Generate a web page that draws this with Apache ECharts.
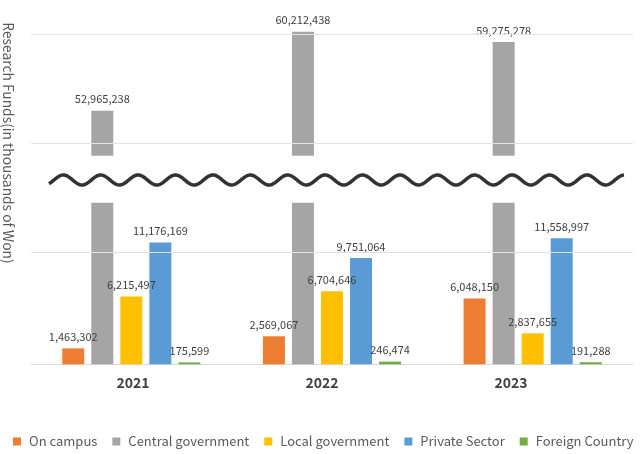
<!DOCTYPE html>
<html>
<head>
<meta charset="utf-8">
<title>Research Funds</title>
<script src="https://cdn.jsdelivr.net/npm/echarts@6/dist/echarts.min.js"></script>
<style>
    html, body {margin:0;padding:0;background:#fff}
    #chart {width:640px;height:454px}
</style>
</head>
<body>
<div id="chart"></div>
<script>
// data (thousands of Won)
var years = ['2021', '2022', '2023'];
var onCampus = [1463302, 2569067, 6048150];
var centralGov = [52965238, 60212438, 59275278];
var localGov = [6215497, 6704646, 2837655];
var privateSector = [11176169, 9751064, 11558997];
var foreignCountry = [175599, 246474, 191288];

var seriesNames = ['On campus', 'Central government', 'Local government', 'Private Sector', 'Foreign Country'];
var seriesColors = ['#ED7D31', '#A5A5A5', '#FFC000', '#5B9BD5', '#70AD47'];
var seriesData = [onCampus, centralGov, localGov, privateSector, foreignCountry];

// broken axis: lower part and upper part
var lowRange = [0, 14826000];
var highRange = [48835000, 61284000];
var lowGrid = [10240000];
var highGrid = [50000000, 60000000];

var FONT = '"Noto Sans CJK KR", "Noto Sans", sans-serif';
var fmt = function (p) { return Number(p.value).toLocaleString('en-US'); };

// empty line series that only carries the horizontal gridlines (drawn under the bars)
function gridSeries(axisIdx, vals) {
    return {
        name: 'gridlines',
        type: 'line',
        xAxisIndex: axisIdx,
        yAxisIndex: axisIdx,
        z: 1,
        data: [],
        markLine: {
            silent: true,
            symbol: 'none',
            label: {show: false},
            lineStyle: {color: '#e3e3e3', width: 1, type: 'solid'},
            data: vals.map(function (v) { return {yAxis: v}; })
        }
    };
}

var series = [gridSeries(0, highGrid), gridSeries(1, lowGrid)];
// lower part
seriesNames.forEach(function (name, i) {
    series.push({
        name: name,
        type: 'bar',
        xAxisIndex: 1,
        yAxisIndex: 1,
        z: 2,
        data: seriesData[i],
        barWidth: 22,
        barGap: '32%',
        itemStyle: {color: seriesColors[i]},
        label: {show: i !== 1, position: 'top', distance: 6, fontSize: 11, color: '#404040', formatter: fmt}
    });
});
// upper part (only central government reaches it)
seriesNames.forEach(function (name, i) {
    series.push({
        name: name,
        type: 'bar',
        xAxisIndex: 0,
        yAxisIndex: 0,
        z: 2,
        data: i === 1 ? centralGov : years.map(function () { return '-'; }),
        barWidth: 22,
        barGap: '32%',
        itemStyle: {color: seriesColors[i]},
        label: {show: i === 1, position: 'top', distance: 6, fontSize: 11, color: '#404040', formatter: fmt}
    });
});

// wavy break line
var wave = [];
for (var x = 49; x <= 624; x += 1) {
    wave.push([x, 180 - 5 * Math.cos(2 * Math.PI * (x - 63.3) / 37.4)]);
}

var chart = echarts.init(document.getElementById('chart'));
chart.setOption({
    animation: false,
    textStyle: {fontFamily: FONT},
    legend: {
        data: seriesNames,
        left: 13,
        top: 435,
        padding: 0,
        icon: 'rect',
        itemWidth: 8,
        itemHeight: 8,
        itemGap: 15,
        textStyle: {fontSize: 13, color: '#595959', fontFamily: FONT, padding: [0, 0, 0, 3]}
    },
    grid: [
        {left: 31, right: 7, top: 20, height: 135.7},
        {left: 31, right: 7, top: 202.7, height: 161.6},
        {left: 38.5, right: 34.5, top: 202.7, height: 161.6}
    ],
    xAxis: [
        {type: 'category', gridIndex: 0, data: years, show: false},
        {type: 'category', gridIndex: 1, data: years,
            axisLine: {show: true, lineStyle: {color: '#d9d9d9'}},
            axisTick: {show: false}, axisLabel: {show: false}},
        {type: 'category', gridIndex: 2, data: years,
            axisLine: {show: false}, axisTick: {show: false},
            axisLabel: {fontSize: 14, fontWeight: 'bold', color: '#404040', margin: 11}}
    ],
    yAxis: [
        {type: 'value', gridIndex: 0, min: highRange[0], max: highRange[1], show: false},
        {type: 'value', gridIndex: 1, min: lowRange[0], max: lowRange[1], show: false},
        {type: 'value', gridIndex: 2, show: false}
    ],
    series: series,
    graphic: [
        {
            type: 'polyline',
            z: 100,
            shape: {points: wave},
            style: {stroke: '#333', lineWidth: 3.5, fill: null}
        },
        {
            type: 'text',
            x: 8,
            y: 143,
            rotation: -Math.PI / 2,
            style: {
                text: 'Research Funds(in thousands of Won)',
                fill: '#595959',
                font: '13.8px ' + FONT,
                align: 'center',
                verticalAlign: 'middle'
            }
        }
    ]
});
</script>
</body>
</html>
